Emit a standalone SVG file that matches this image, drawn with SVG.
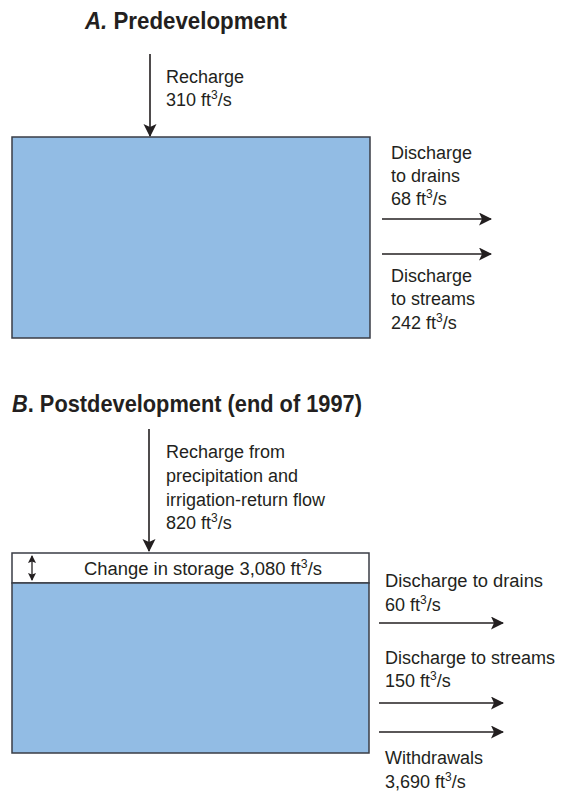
<svg xmlns="http://www.w3.org/2000/svg" width="561" height="793" viewBox="0 0 561 793">
<style>
.t{font-family:"Liberation Sans",Arial,sans-serif;font-size:18px;fill:#231f20}
.h{font-family:"Liberation Sans",Arial,sans-serif;font-size:24px;font-weight:bold;fill:#231f20}
.box{fill:#92bce4;stroke:#3a3d45;stroke-width:1.5}
.band{fill:#ffffff;stroke:#3a3d45;stroke-width:1.5}
.ln{stroke:#231f20;stroke-width:1.6;fill:none}
</style>
<defs>
<marker id="ah" markerUnits="userSpaceOnUse" markerWidth="14" markerHeight="14" refX="12" refY="6.5" orient="auto">
<path d="M0,0 L13,6.5 L0,13 L3,6.5 z" fill="#231f20"/>
</marker>
<marker id="sh" markerUnits="userSpaceOnUse" markerWidth="9" markerHeight="9" refX="7" refY="4" orient="auto-start-reverse">
<path d="M0,0 L8,4 L0,8 L1.5,4 z" fill="#231f20"/>
</marker>
</defs>

<g id="titleA"><text class="h" x="85" y="29" textLength="202" lengthAdjust="spacingAndGlyphs"><tspan font-style="italic">A.</tspan> Predevelopment</text></g>

<g id="aquiferA"><rect class="box" x="12" y="137" width="358" height="201"/></g>

<g id="rechargeA"><text class="t" x="166" y="83">Recharge</text><text class="t" x="166" y="106">310 ft<tspan dy="-7" font-size="12">3</tspan><tspan dy="7">/s</tspan></text></g>

<g id="drainsA"><text class="t" x="391" y="159">Discharge</text><text class="t" x="391" y="182">to drains</text><text class="t" x="391" y="205">68 ft<tspan dy="-7" font-size="12">3</tspan><tspan dy="7">/s</tspan></text></g>

<g id="streamsA"><text class="t" x="391" y="282">Discharge</text><text class="t" x="391" y="305">to streams</text><text class="t" x="391" y="329">242 ft<tspan dy="-7" font-size="12">3</tspan><tspan dy="7">/s</tspan></text></g>

<g id="titleB"><text class="h" x="12" y="412" textLength="350" lengthAdjust="spacingAndGlyphs"><tspan font-style="italic">B</tspan>. Postdevelopment (end of 1997)</text></g>

<g id="aquiferB"><rect class="band" x="12" y="553" width="357" height="30"/><rect class="box" x="12" y="583" width="357" height="170"/></g>

<g id="storageB"><text class="t" x="84" y="575" textLength="238" lengthAdjust="spacingAndGlyphs">Change in storage 3,080 ft<tspan dy="-7" font-size="12">3</tspan><tspan dy="7">/s</tspan></text></g>

<g id="rechargeB"><text class="t" x="166" y="458">Recharge from</text><text class="t" x="166" y="482">precipitation and</text><text class="t" x="166" y="506">irrigation-return flow</text><text class="t" x="166" y="529">820 ft<tspan dy="-7" font-size="12">3</tspan><tspan dy="7">/s</tspan></text></g>

<g id="drainsB"><text class="t" x="385" y="587" textLength="158" lengthAdjust="spacingAndGlyphs">Discharge to drains</text><text class="t" x="385" y="611">60 ft<tspan dy="-7" font-size="12">3</tspan><tspan dy="7">/s</tspan></text></g>

<g id="streamsB"><text class="t" x="385" y="664">Discharge to streams</text><text class="t" x="385" y="687">150 ft<tspan dy="-7" font-size="12">3</tspan><tspan dy="7">/s</tspan></text></g>

<g id="withdrawalsB"><text class="t" x="385" y="764">Withdrawals</text><text class="t" x="385" y="788">3,690 ft<tspan dy="-7" font-size="12">3</tspan><tspan dy="7">/s</tspan></text></g>

<g id="connectors">
<line class="ln" x1="150" y1="54" x2="150" y2="136" marker-end="url(#ah)"/>
<line class="ln" x1="382" y1="219" x2="491" y2="219" marker-end="url(#ah)"/>
<line class="ln" x1="382" y1="254" x2="491" y2="254" marker-end="url(#ah)"/>
<line class="ln" x1="149" y1="429" x2="149" y2="551" marker-end="url(#ah)"/>
<line class="ln" x1="32" y1="556" x2="32" y2="580" marker-start="url(#sh)" marker-end="url(#sh)" style="stroke-width:1.3"/>
<line class="ln" x1="379" y1="623" x2="503" y2="623" marker-end="url(#ah)"/>
<line class="ln" x1="379" y1="703" x2="503" y2="703" marker-end="url(#ah)"/>
<line class="ln" x1="379" y1="732" x2="503" y2="732" marker-end="url(#ah)"/>
</g>
</svg>
